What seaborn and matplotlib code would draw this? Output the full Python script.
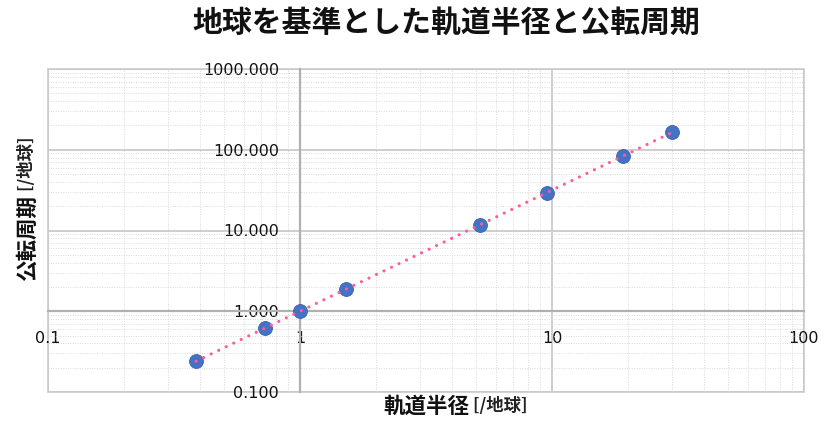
import numpy as np
import pandas as pd
import matplotlib
matplotlib.use("Agg")
import matplotlib.pyplot as plt
import seaborn as sns
from matplotlib.ticker import LogLocator, FixedLocator, FuncFormatter, NullFormatter
from matplotlib.patches import Rectangle

# Data (Earth = 1)
planets = ["水星", "金星", "地球", "火星", "木星", "土星", "天王星", "海王星"]
radius = [0.387, 0.723, 1.0, 1.524, 5.203, 9.537, 19.19, 30.07]
period = [0.241, 0.615, 1.0, 1.881, 11.86, 29.45, 84.02, 164.8]
x_ticks = [0.1, 1, 10, 100]
y_ticks = [0.1, 1, 10, 100, 1000]

title = "地球を基準とした軌道半径と公転周期"
xlabel_main, xlabel_unit = "軌道半径", "[/地球]"
ylabel_main, ylabel_unit = "公転周期", "[/地球]"

df = pd.DataFrame({"planet": planets, "radius": radius, "period": period})

sns.set_theme(style="white")
plt.rcParams["font.family"] = ["Noto Sans CJK JP", "DejaVu Sans"]

fig = plt.figure(figsize=(8.26, 4.32), dpi=100)
ax = fig.add_axes([48 / 826, 40 / 432, 756 / 826, 323 / 432])

ax.set_xscale("log")
ax.set_yscale("log")
ax.set_xlim(0.1, 100)
ax.set_ylim(0.1, 1000)

# grid
ax.xaxis.set_major_locator(FixedLocator(x_ticks))
ax.yaxis.set_major_locator(FixedLocator(y_ticks))
ax.xaxis.set_minor_locator(LogLocator(base=10, subs=np.arange(2, 10)))
ax.yaxis.set_minor_locator(LogLocator(base=10, subs=np.arange(2, 10)))
ax.xaxis.set_minor_formatter(NullFormatter())
ax.yaxis.set_minor_formatter(NullFormatter())
ax.grid(True, which="minor", color="#dadada", linestyle=(0, (1, 1.5)), linewidth=0.7)
ax.grid(True, which="major", color="#cacaca", linestyle="-", linewidth=1.3)
ax.set_axisbelow(True)

# axes crossing at 1
for s in ["left", "bottom"]:
    ax.spines[s].set_position(("data", 1))
    ax.spines[s].set_color("#b0b0b0")
    ax.spines[s].set_linewidth(1.6)
for s in ["top", "right"]:
    ax.spines[s].set_visible(False)
ax.add_patch(Rectangle((0, 0), 1, 1, transform=ax.transAxes, fill=False,
                       edgecolor="#cfcfcf", linewidth=1.3, clip_on=False, zorder=0.5))

ax.xaxis.set_major_formatter(FuncFormatter(lambda v, p: f"{v:g}"))
ax.yaxis.set_major_formatter(FuncFormatter(lambda v, p: f"{v:.3f}"))
ax.tick_params(axis="x", which="both", length=0, pad=14, labelsize=11.5, labelcolor="#111111")
ax.tick_params(axis="y", which="both", length=0, pad=15, labelsize=11.5, labelcolor="#111111")
for lab in ax.get_xticklabels() + ax.get_yticklabels():
    lab.set_fontfamily("DejaVu Sans")

# power-law trendline from data
coef = np.polyfit(np.log10(df["radius"]), np.log10(df["period"]), 1)
xs = np.logspace(np.log10(min(radius)), np.log10(max(radius)), 200)
trend = pd.DataFrame({"x": xs, "y": 10 ** np.polyval(coef, np.log10(xs))})

sns.scatterplot(data=df, x="radius", y="period", ax=ax, s=100, color="#4472C4",
                edgecolor="#3a62b0", linewidth=0.6, zorder=3, legend=False)
sns.lineplot(data=trend, x="x", y="y", ax=ax, color="#ff5c9a", linewidth=2.3,
             linestyle=(0, (0.01, 2.6)), dash_capstyle="round", zorder=4,
             legend=False)
ax.set_xlabel("")
ax.set_ylabel("")

# title
fig.text(446 / 826, 1 - 23 / 432, title, ha="center", va="center",
         fontsize=21.5, fontweight="bold", color="#111111")

# x label
t1 = fig.text(383 / 826, 1 - 406 / 432, xlabel_main, ha="left", va="center",
              fontsize=15.5, fontweight="bold", color="#111111")
ax.annotate(" " + xlabel_unit, xy=(1, 0.5), xycoords=t1, ha="left", va="center",
            fontsize=12.5, fontweight="bold", color="#222222")

# y label
t2 = fig.text(27 / 826, 1 - 238 / 432, ylabel_main, ha="center", va="center",
              rotation=90, fontsize=15.5, fontweight="bold", color="#111111")
ax.annotate(" " + ylabel_unit, xy=(0.5, 1), xycoords=t2, ha="center", va="bottom",
            rotation=90, fontsize=12.5, fontweight="bold", color="#222222")

fig.savefig("out.png", dpi=100, facecolor="white")
